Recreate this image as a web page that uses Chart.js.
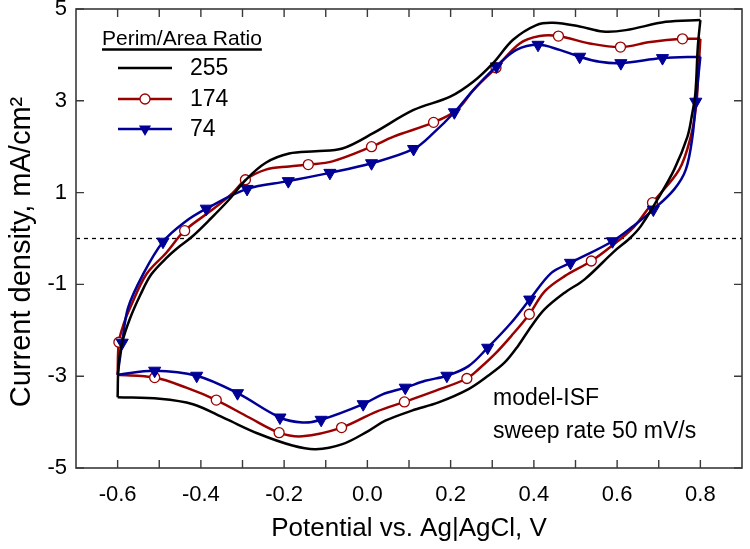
<!DOCTYPE html>
<html>
<head>
<meta charset="utf-8">
<script src="https://cdn.jsdelivr.net/npm/chart.js@4.4.1/dist/chart.umd.min.js"></script>
<style>
  html, body { margin: 0; padding: 0; background: #fff; }
</style>
</head>
<body>
<canvas id="cv" width="750" height="549"></canvas>
<script>
// axes
const xRange = [-0.7, 0.9];
const yRange = [-5, 5];
const xTicks = [-0.6, -0.5, -0.4, -0.3, -0.2, -0.1, 0.0, 0.1, 0.2, 0.3, 0.4, 0.5, 0.6, 0.7, 0.8];
const yTicks = [-5, -3, -1, 1, 3, 5];
const seriesLabels = ['255', '174', '74'];

// Perim/Area 255 - anodic sweep (-0.6 -> 0.8) and cathodic sweep (0.8 -> -0.6)
const fwdV255 = [-0.600, -0.598, -0.590, -0.571, -0.545, -0.519, -0.480, -0.451, -0.420, -0.380, -0.332, -0.292, -0.244, -0.188, -0.124, -0.060, 0.015, 0.111, 0.199, 0.255, 0.302, 0.350, 0.406, 0.446, 0.510, 0.566, 0.621, 0.717, 0.800];
const fwdI255 = [-3.46, -2.80, -2.30, -1.76, -1.22, -0.78, -0.40, -0.17, 0.05, 0.40, 0.85, 1.28, 1.65, 1.85, 1.90, 1.96, 2.30, 2.80, 3.09, 3.42, 3.82, 4.33, 4.65, 4.70, 4.62, 4.51, 4.54, 4.72, 4.76];
const revV255 = [0.800, 0.794, 0.788, 0.780, 0.769, 0.737, 0.697, 0.657, 0.630, 0.593, 0.522, 0.474, 0.426, 0.394, 0.362, 0.330, 0.290, 0.243, 0.171, 0.107, 0.043, 0.003, -0.060, -0.124, -0.180, -0.260, -0.340, -0.419, -0.499, -0.600];
const revI255 = [4.76, 4.20, 3.17, 2.70, 2.22, 1.50, 0.85, 0.27, 0.00, -0.28, -0.89, -1.18, -1.54, -1.91, -2.34, -2.70, -2.99, -3.28, -3.57, -3.75, -3.97, -4.19, -4.48, -4.59, -4.51, -4.26, -3.93, -3.61, -3.49, -3.46];

// Perim/Area 174
const fwdV174 = [-0.600, -0.597, -0.585, -0.570, -0.531, -0.483, -0.439, -0.372, -0.324, -0.293, -0.244, -0.188, -0.142, -0.084, 0.010, 0.063, 0.159, 0.215, 0.255, 0.309, 0.366, 0.414, 0.459, 0.534, 0.608, 0.680, 0.757, 0.800];
const fwdI174 = [-2.97, -2.26, -1.85, -1.51, -0.78, -0.31, 0.17, 0.63, 0.99, 1.28, 1.50, 1.57, 1.61, 1.68, 2.00, 2.22, 2.53, 2.80, 3.24, 3.72, 4.25, 4.41, 4.41, 4.25, 4.17, 4.28, 4.35, 4.35];
const revV174 = [0.800, 0.795, 0.790, 0.777, 0.749, 0.685, 0.640, 0.586, 0.538, 0.474, 0.426, 0.389, 0.346, 0.306, 0.267, 0.239, 0.163, 0.089, 0.022, -0.062, -0.156, -0.212, -0.284, -0.363, -0.435, -0.511, -0.600];
const revI174 = [4.35, 3.60, 2.90, 2.22, 1.50, 0.78, 0.25, -0.17, -0.49, -0.82, -1.15, -1.65, -2.12, -2.52, -2.85, -3.05, -3.32, -3.56, -3.77, -4.12, -4.31, -4.23, -3.90, -3.52, -3.25, -3.03, -2.97];
const markV174 = [-0.597, -0.439, -0.293, -0.142, 0.010, 0.159, 0.309, 0.459, 0.608, 0.757, 0.685, 0.538, 0.389, 0.239, 0.089, -0.062, -0.212, -0.363, -0.511];
const markI174 = [-2.26, 0.17, 1.28, 1.61, 2.00, 2.53, 3.72, 4.41, 4.17, 4.35, 0.78, -0.49, -1.65, -3.05, -3.56, -4.12, -4.23, -3.52, -3.03];

// Perim/Area 74
const fwdV74 = [-0.600, -0.589, -0.575, -0.539, -0.491, -0.440, -0.387, -0.289, -0.190, -0.090, 0.010, 0.111, 0.159, 0.209, 0.255, 0.310, 0.358, 0.410, 0.462, 0.510, 0.558, 0.609, 0.709, 0.800];
const fwdI74 = [-2.97, -2.27, -1.51, -0.78, -0.07, 0.35, 0.65, 1.08, 1.25, 1.43, 1.64, 1.95, 2.30, 2.75, 3.24, 3.75, 4.11, 4.22, 4.11, 3.96, 3.85, 3.82, 3.93, 3.96];
const revV74 = [0.800, 0.789, 0.781, 0.765, 0.737, 0.687, 0.640, 0.589, 0.488, 0.442, 0.390, 0.346, 0.289, 0.243, 0.191, 0.139, 0.091, 0.035, -0.010, -0.111, -0.156, -0.210, -0.312, -0.410, -0.511, -0.600];
const revI74 = [3.96, 2.98, 2.22, 1.50, 1.07, 0.63, 0.28, -0.06, -0.53, -0.75, -1.33, -1.83, -2.38, -2.78, -2.99, -3.10, -3.25, -3.40, -3.61, -3.95, -4.01, -3.90, -3.37, -2.99, -2.88, -2.97];
const markV74 = [-0.589, -0.491, -0.387, -0.289, -0.190, -0.090, 0.010, 0.111, 0.209, 0.310, 0.410, 0.510, 0.609, 0.709, 0.789, 0.687, 0.589, 0.488, 0.390, 0.289, 0.191, 0.091, -0.010, -0.111, -0.210, -0.312, -0.410, -0.511];
const markI74 = [-2.27, -0.07, 0.65, 1.08, 1.25, 1.43, 1.64, 1.95, 2.75, 3.75, 4.22, 3.96, 3.82, 3.93, 2.98, 0.63, -0.06, -0.53, -1.33, -2.38, -2.99, -3.25, -3.61, -3.95, -3.90, -3.37, -2.99, -2.88];

const FONT = "'Liberation Sans', Arial, sans-serif";
const colors = ['#000000', '#9a0000', '#000096'];
const frameColor = '#3a3a3a';

function pts(xs, ys) {
  return xs.map((x, i) => ({ x: x, y: ys[i] }));
}

function lineSet(xs, ys, color, order) {
  return {
    data: pts(xs, ys),
    showLine: true,
    borderColor: color,
    borderWidth: 2.5,
    pointRadius: 0,
    tension: 0.35,
    fill: false,
    order: order
  };
}

const datasets = [
  { data: xRange.map(x => ({ x: x, y: 0 })), showLine: true, borderColor: '#000', borderWidth: 1.3,
    borderDash: [4, 4], pointRadius: 0, order: 10 },
  lineSet(fwdV174, fwdI174, colors[1], 8),
  lineSet(revV174, revI174, colors[1], 8),
  { data: pts(markV174, markI174), showLine: false, pointStyle: 'circle', pointRadius: 5,
    pointBackgroundColor: '#fff', pointBorderColor: colors[1], pointBorderWidth: 1.3, order: 7 },
  lineSet(fwdV74, fwdI74, colors[2], 6),
  lineSet(revV74, revI74, colors[2], 6),
  { data: pts(markV74, markI74), showLine: false, pointStyle: 'triangle', pointRotation: 180, pointRadius: 7,
    pointBackgroundColor: colors[2], pointBorderColor: colors[2], pointBorderWidth: 1, order: 5 },
  lineSet(fwdV255, fwdI255, colors[0], 3),
  lineSet(revV255, revI255, colors[0], 3)
];

// inward ticks on all four sides + box
const framePlugin = {
  id: 'frame',
  afterDatasetsDraw(chart) {
    const { ctx, chartArea: a, scales: { x, y } } = chart;
    ctx.save();
    ctx.strokeStyle = frameColor;
    ctx.lineWidth = 1.4;
    ctx.beginPath();
    x.ticks.forEach(t => {
      const px = x.getPixelForValue(t.value);
      ctx.moveTo(px, a.bottom); ctx.lineTo(px, a.bottom - 8);
      ctx.moveTo(px, a.top); ctx.lineTo(px, a.top + 8);
    });
    y.ticks.forEach(t => {
      const py = y.getPixelForValue(t.value);
      ctx.moveTo(a.left, py); ctx.lineTo(a.left + 8, py);
      ctx.moveTo(a.right, py); ctx.lineTo(a.right - 8, py);
    });
    ctx.stroke();
    ctx.lineWidth = 1.6;
    ctx.strokeRect(a.left, a.top, a.right - a.left, a.bottom - a.top);
    ctx.restore();
  }
};

function drawMarker(ctx, kind, x, y, color) {
  ctx.save();
  ctx.strokeStyle = color;
  if (kind === 'circle') {
    ctx.fillStyle = '#fff';
    ctx.lineWidth = 1.3;
    ctx.beginPath();
    ctx.arc(x, y, 5, 0, Math.PI * 2);
    ctx.fill();
    ctx.stroke();
  } else if (kind === 'triangle') {
    const r = 7;
    ctx.fillStyle = color;
    ctx.beginPath();
    ctx.moveTo(x, y + r);
    ctx.lineTo(x - r * 0.866, y - r / 2);
    ctx.lineTo(x + r * 0.866, y - r / 2);
    ctx.closePath();
    ctx.fill();
  }
  ctx.restore();
}

// legend, y title and note text
const extrasPlugin = {
  id: 'extras',
  afterDraw(chart) {
    const ctx = chart.ctx;
    ctx.save();
    ctx.fillStyle = '#000';

    // y axis title
    ctx.save();
    ctx.translate(22, 252);
    ctx.rotate(-Math.PI / 2);
    ctx.font = '29px ' + FONT;
    ctx.textAlign = 'center';
    ctx.textBaseline = 'middle';
    ctx.fillText('Current density, mA/cm\u00B2', 0, 0);
    ctx.restore();

    // legend
    ctx.font = '21px ' + FONT;
    ctx.textAlign = 'left';
    ctx.textBaseline = 'alphabetic';
    const title = 'Perim/Area Ratio';
    ctx.fillText(title, 102, 45);
    const tw = ctx.measureText(title).width;
    ctx.strokeStyle = '#000';
    ctx.lineWidth = 2.5;
    ctx.beginPath();
    ctx.moveTo(102, 49.5);
    ctx.lineTo(102 + tw, 49.5);
    ctx.stroke();

    const rows = [68, 99, 129];
    const marks = [null, 'circle', 'triangle'];
    ctx.font = '23px ' + FONT;
    ctx.textBaseline = 'middle';
    seriesLabels.forEach((lab, i) => {
      const yy = rows[i];
      ctx.strokeStyle = colors[i];
      ctx.lineWidth = 2.5;
      ctx.beginPath();
      ctx.moveTo(118, yy);
      ctx.lineTo(172, yy);
      ctx.stroke();
      if (marks[i]) drawMarker(ctx, marks[i], 145, yy, colors[i]);
      ctx.fillStyle = '#000';
      ctx.fillText(lab, 190, yy + 1);
    });

    // note
    ctx.font = '23px ' + FONT;
    ctx.textBaseline = 'alphabetic';
    ctx.fillText('model-ISF', 493, 405);
    ctx.fillText('sweep rate 50 mV/s', 493, 438);
    ctx.restore();
  }
};

new Chart(document.getElementById('cv'), {
  type: 'scatter',
  data: { datasets: datasets },
  options: {
    responsive: false,
    animation: false,
    layout: { padding: { top: 9, right: 6, left: 0, bottom: 0 } },
    plugins: { legend: { display: false }, tooltip: { enabled: false } },
    scales: {
      x: {
        type: 'linear',
        min: xRange[0],
        max: xRange[1],
        grid: { display: false, drawTicks: false },
        border: { display: false },
        afterBuildTicks: s => { s.ticks = xTicks.map(v => ({ value: v })); },
        afterFit: s => { s.height = 81; s.paddingLeft = 0; s.paddingRight = 0; },
        ticks: {
          autoSkip: false,
          maxRotation: 0,
          padding: 14,
          color: '#000',
          font: { size: 22, family: FONT },
          callback: v => (Math.round(v * 10) % 2 === 0 ? v.toFixed(1) : '')
        },
        title: {
          display: true,
          text: 'Potential vs. Ag|AgCl, V',
          color: '#000',
          font: { size: 26, family: FONT },
          padding: { top: 0, bottom: 5 }
        }
      },
      y: {
        type: 'linear',
        min: yRange[0],
        max: yRange[1],
        grid: { display: false, drawTicks: false },
        border: { display: false },
        afterBuildTicks: s => { s.ticks = yTicks.map(v => ({ value: v })); },
        afterFit: s => { s.width = 76; s.paddingTop = 0; s.paddingBottom = 0; },
        ticks: {
          padding: 9,
          color: '#000',
          font: { size: 22, family: FONT },
          callback: v => String(v)
        }
      }
    }
  },
  plugins: [framePlugin, extrasPlugin]
});
</script>
</body>
</html>
